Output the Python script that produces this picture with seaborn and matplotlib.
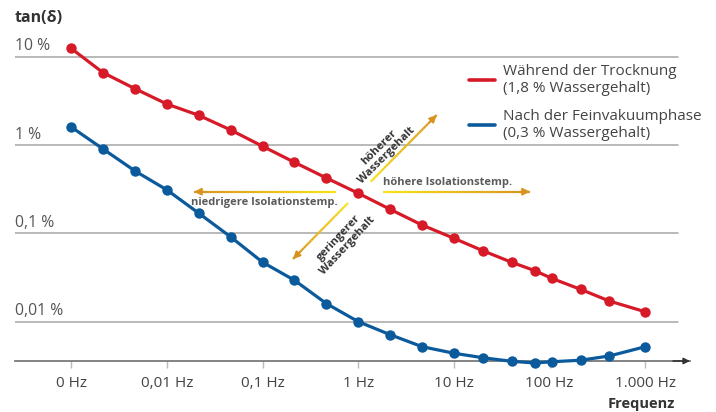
import numpy as np
import pandas as pd
import seaborn as sns
import matplotlib.pyplot as plt
from matplotlib.lines import Line2D
from matplotlib.collections import LineCollection
from matplotlib.colors import to_rgb

sns.set_style("white")
plt.rcParams['font.family'] = ['Open Sans', 'DejaVu Sans']

# ---------------------------------------------------------
# data (frequency in Hz, tan(delta) in %)
# ---------------------------------------------------------
freq = [0.001, 0.00215, 0.00464, 0.01, 0.0215, 0.0464, 0.1, 0.215, 0.464, 1,
        2.15, 4.64, 10, 20, 40, 70, 105, 210, 420, 1000]
trocknung = [12.4, 6.6, 4.34, 2.91, 2.17, 1.48, 0.967, 0.637, 0.423, 0.284,
             0.187, 0.124, 0.0877, 0.0635, 0.047, 0.0377, 0.0309, 0.0232, 0.0171, 0.0129]
feinvakuum = [1.6, 0.902, 0.508, 0.31, 0.169, 0.091, 0.047, 0.0294, 0.016, 0.00998,
              0.00711, 0.0052, 0.00438, 0.0039, 0.00355, 0.0034, 0.00351, 0.00365, 0.00408, 0.0052]

label_red = "Während der Trocknung\n(1,8 % Wassergehalt)"
label_blue = "Nach der Feinvakuumphase\n(0,3 % Wassergehalt)"
x_ticks = [0.001, 0.01, 0.1, 1, 10, 100, 1000]
x_ticklabels = ["0 Hz", "0,01 Hz", "0,1 Hz", "1 Hz", "10 Hz", "100 Hz", "1.000 Hz"]
y_ticks = [10, 1, 0.1, 0.01]
y_ticklabels = ["10 %", "1 %", "0,1 %", "0,01 %"]

df = pd.concat([
    pd.DataFrame({'freq': freq, 'tan': trocknung, 'serie': label_red}),
    pd.DataFrame({'freq': freq, 'tan': feinvakuum, 'serie': label_blue}),
])
palette = {label_red: '#d71a28', label_blue: '#0a5a9c'}

W, H = 716, 412
fig = plt.figure(figsize=(W / 100, H / 100), dpi=100)


def px(x, y):
    return (x / W, 1 - y / H)


ax = fig.add_axes([15 / W, (H - 361) / H, (690 - 15) / W, (361 - 20) / H])

sns.lineplot(data=df, x='freq', y='tan', hue='serie', palette=palette, marker='o',
             markersize=7.5, markeredgewidth=0, linewidth=2.3, legend=False, ax=ax,
             clip_on=False, zorder=5)

ax.set_xscale('log')
ax.set_yscale('log')
ax.set_xlim(10 ** ((15 - 358.3) / 95.7), 10 ** ((690 - 358.3) / 95.7))
ax.set_ylim(10 ** (1 - (361 - 56.7) / 88.3), 10 ** (1 - (20 - 56.7) / 88.3))

# gridlines + y labels
for v, lab in zip(y_ticks, y_ticklabels):
    ax.axhline(v, xmin=0, xmax=(678 - 15) / (690 - 15), color='#a5a5a5', lw=1.1, zorder=1)
    ax.text(0, v * 1.06, lab, transform=ax.get_yaxis_transform(), ha='left', va='bottom',
            fontsize=11.3, color='#555555')
ax.set_yticks([])
ax.yaxis.set_minor_locator(plt.NullLocator())
ax.xaxis.set_minor_locator(plt.NullLocator())

ax.set_xticks(x_ticks)
ax.set_xticklabels(x_ticklabels)
ax.tick_params(axis='x', length=5, width=1, color='#bbbbbb', labelcolor='#444444',
               labelsize=11, pad=6, bottom=True)
ax.set_xlabel('')
ax.set_ylabel('')
for s in ['top', 'right', 'left']:
    ax.spines[s].set_visible(False)
ax.spines['bottom'].set_color('#7a7a7a')
ax.spines['bottom'].set_linewidth(1.3)
ax.annotate('', xy=(1.0, 0), xytext=(0.975, 0), xycoords='axes fraction',
            arrowprops=dict(arrowstyle='-|>', color='#333333', lw=1.2, mutation_scale=9,
                            shrinkA=0, shrinkB=0))

fig.text(*px(15, 18), 'tan(δ)', fontsize=11.5, fontweight='bold', color='#333333',
         ha='left', va='center')
fig.text(*px(675, 404), 'Frequenz', fontsize=10.5, fontweight='bold', color='#333333',
         ha='right', va='center')

# legend
handles = [Line2D([], [], color=palette[label_red], lw=2.6),
           Line2D([], [], color=palette[label_blue], lw=2.6)]
leg = fig.legend(handles, [label_red, label_blue], loc='upper left',
                 bbox_to_anchor=px(455, 50), frameon=False, fontsize=11,
                 handlelength=1.75, handletextpad=0.5, labelspacing=0.85)
for t in leg.get_texts():
    t.set_color('#444444')


# gradient arrows (yellow -> gold)
def grad_arrow(x0, y0, x1, y1):
    c0, c1 = np.array(to_rgb('#f8e21a')), np.array(to_rgb('#d8931f'))
    n = 30
    xs = np.linspace(x0, x1, n + 1)
    ys = np.linspace(y0, y1, n + 1)
    pts = [px(a, b) for a, b in zip(xs, ys)]
    segs = [[pts[i], pts[i + 1]] for i in range(n)]
    cols = [c0 + (c1 - c0) * i / (n - 1) for i in range(n)]
    fig.add_artist(LineCollection(segs, colors=cols, linewidths=1.6,
                                  transform=fig.transFigure))
    d = np.array([x1 - x0, y1 - y0]) / np.hypot(x1 - x0, y1 - y0)
    fig.add_artist(plt.Annotation('', xy=px(x1, y1), xytext=px(x1 - 10 * d[0], y1 - 10 * d[1]),
                                  xycoords='figure fraction',
                                  arrowprops=dict(arrowstyle='-|>', color='#d8931f', lw=1.2,
                                                  mutation_scale=11, shrinkA=0, shrinkB=0)))


grad_arrow(383, 191.7, 530, 191.7)
grad_arrow(336, 191.7, 194, 191.7)
grad_arrow(370.7, 181.7, 436.7, 115)
grad_arrow(348, 203, 293, 259)

fs_ann = 8
fig.text(*px(383, 182), 'höhere Isolationstemp.', fontsize=fs_ann, fontweight='bold',
         color='#5a5a5a', ha='left', va='center')
fig.text(*px(264, 202), 'niedrigere Isolationstemp.', fontsize=fs_ann, fontweight='bold',
         color='#5a5a5a', ha='center', va='center')
fig.text(*px(383, 151), 'höherer\nWassergehalt', fontsize=fs_ann, fontweight='bold',
         color='#333333', ha='center', va='center', rotation=45, linespacing=1.05,
         rotation_mode='anchor', multialignment='center')
fig.text(*px(343, 242), 'geringerer\nWassergehalt', fontsize=fs_ann, fontweight='bold',
         color='#333333', ha='center', va='center', rotation=47, linespacing=1.05,
         rotation_mode='anchor', multialignment='center')

fig.savefig('out.png', dpi=100)
